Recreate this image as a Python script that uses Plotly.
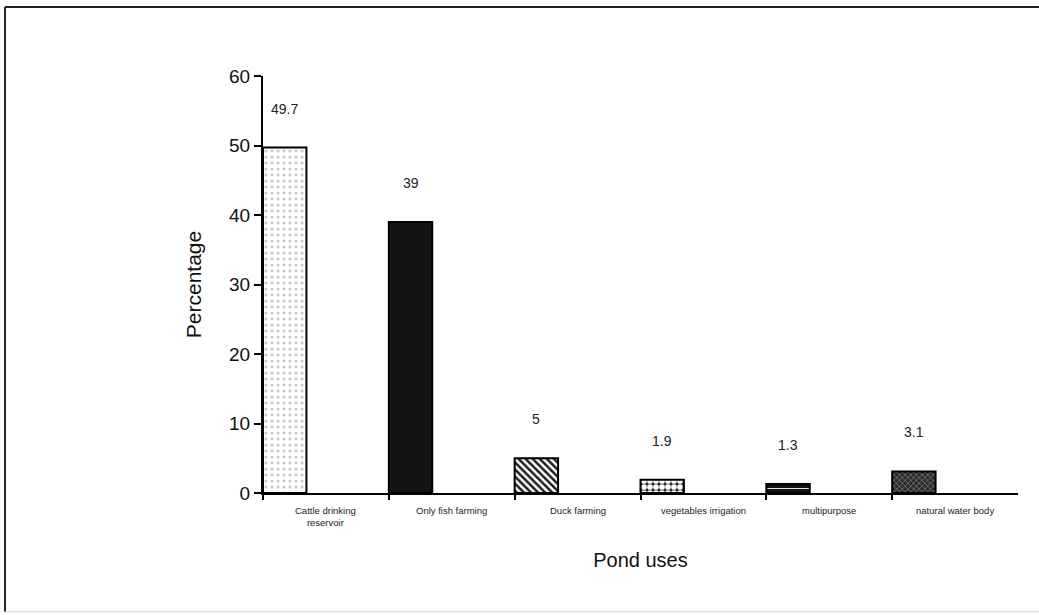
import plotly.graph_objects as go

categories = ["Cattle drinking<br>reservoir", "Only fish farming", "Duck farming",
              "vegetables irrigation", "multipurpose", "natural water body"]
values = [49.7, 39, 5, 1.9, 1.3, 3.1]
value_labels = ["49.7", "39", "5", "1.9", "1.3", "3.1"]
y_ticks = [0, 10, 20, 30, 40, 50, 60]

positions = list(range(len(categories)))
bar_w = 0.345

FONT = "Arial, Liberation Sans, sans-serif"

# per-bar fill styles (shape, fg, bg, size, solidity)
styles = [
    (".", "#c8c8c8", "white", 6, 0.2),
    ("", "#141414", "#141414", 8, 0.3),
    ("\\", "#1e1e1e", "white", 5, 0.5),
    (".", "white", "#2a2a2a", 6, 0.7),
    ("-", "#e0e0e0", "#111111", 5, 0.2),
    ("x", "#777777", "#2a2a2a", 4, 0.35),
]

fig = go.Figure()
for i, (pos, v) in enumerate(zip(positions, values)):
    shape, fg, bg, size, sol = styles[i]
    marker = dict(color=bg, line=dict(color="black", width=2))
    if shape:
        marker["pattern"] = dict(shape=shape, fgcolor=fg, bgcolor=bg, size=size,
                                 solidity=sol, fillmode="replace")
    fig.add_trace(go.Bar(x=[pos], y=[v], width=bar_w, offset=0, marker=marker,
                         showlegend=False, hoverinfo="skip"))

annotations = []
for i, (v, t) in enumerate(zip(values, value_labels)):
    annotations.append(dict(x=i + bar_w / 2, y=v, xref="x", yref="y", text=t,
                            showarrow=False, yshift=39, yanchor="middle",
                            font=dict(family=FONT, size=14, color="#222")))
for i, c in enumerate(categories):
    annotations.append(dict(x=i + 0.5, y=0, xref="x", yref="y", text=c,
                            showarrow=False, yshift=-10, yanchor="top",
                            font=dict(family=FONT, size=9.5, color="#222")))

fig.update_layout(
    width=1039, height=615,
    margin=dict(l=263, r=21, t=76, b=122),
    paper_bgcolor="white", plot_bgcolor="white",
    font=dict(family=FONT, color="#111"),
    annotations=annotations,
    barmode="overlay",
    xaxis=dict(
        range=[0, len(categories)], tickvals=positions, ticktext=[""] * len(positions),
        ticks="outside", ticklen=5, tickwidth=2, tickcolor="black",
        showline=True, linecolor="black", linewidth=2, showgrid=False, zeroline=False,
        title=dict(text="Pond uses", font=dict(family=FONT, size=20, color="#111"), standoff=52),
    ),
    yaxis=dict(
        range=[0, 60], tickvals=y_ticks,
        ticks="outside", ticklen=7, tickwidth=2, tickcolor="black",
        showline=True, linecolor="black", linewidth=2, showgrid=False, zeroline=False,
        tickfont=dict(family=FONT, size=19, color="#111"),
        title=dict(text="Percentage", font=dict(family=FONT, size=21, color="#111"), standoff=22),
    ),
    shapes=[
        dict(type="line", xref="paper", yref="paper", x0=-0.3417, x1=1.03, y0=1.1655, y1=1.1655,
             line=dict(color="#222", width=2)),
        dict(type="line", xref="paper", yref="paper", x0=-0.3417, x1=-0.3417, y0=1.1655, y1=-0.285,
             line=dict(color="#222", width=2)),
        dict(type="line", xref="paper", yref="paper", x0=-0.3417, x1=1.03, y0=-0.285, y1=-0.285,
             line=dict(color="#cccccc", width=1)),
    ],
)

fig.write_html("out.html")
